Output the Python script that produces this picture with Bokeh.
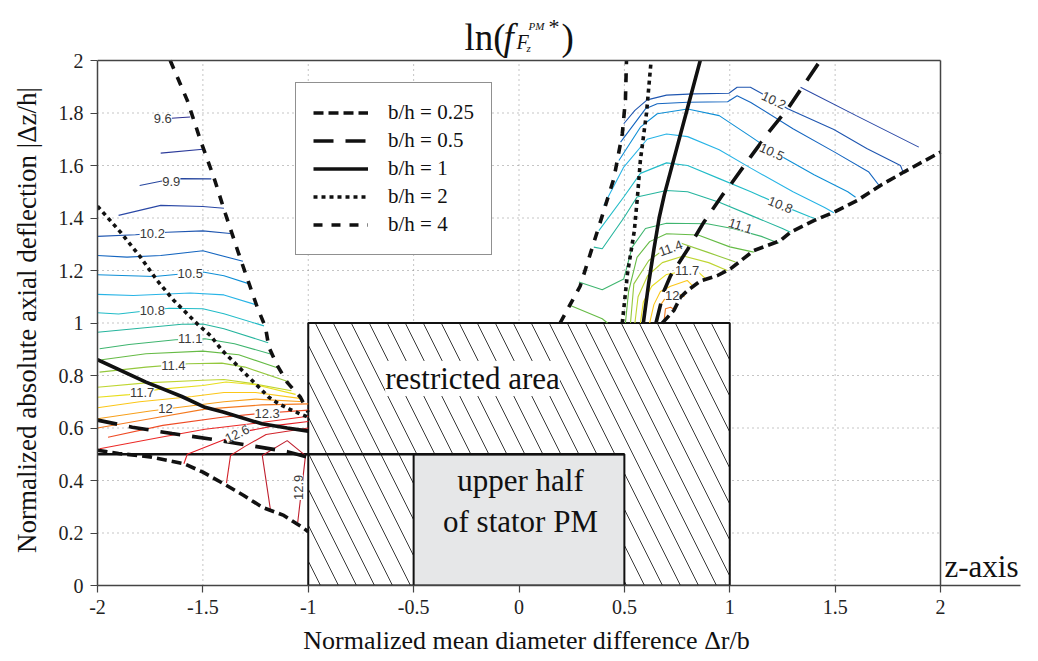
import math
from bokeh.plotting import figure
from bokeh.models import (Range1d, FixedTicker, Label, LabelSet, ColumnDataSource,
                          Legend, LegendItem)
from bokeh.core.properties import value
from bokeh.embed import file_html
from bokeh.resources import INLINE

SERIF = "Liberation Serif"
SANS = "Liberation Sans"

# ---------------- axes / ticks ----------------
x_ticks = [-2, -1.5, -1, -0.5, 0, 0.5, 1, 1.5, 2]
x_tick_labels = ["-2", "-1.5", "-1", "-0.5", "0", "0.5", "1", "1.5", "2"]
y_ticks = [0, 0.2, 0.4, 0.6, 0.8, 1, 1.2, 1.4, 1.6, 1.8, 2]
y_tick_labels = ["0", "0.2", "0.4", "0.6", "0.8", "1", "1.2", "1.4", "1.6", "1.8", "2"]
grid_x = [-1.5, -1, -0.5, 0, 0.5, 1, 1.5]
grid_y = [0.2, 0.4, 0.6, 0.8, 1, 1.2, 1.4, 1.6, 1.8]

# ---------------- regions ----------------
restricted_x = [-1, 1]
restricted_y = [0, 1]
stator_x = [-0.5, 0.5]
stator_y = [0, 0.5]
halfline_x = [-2, 0.5]
halfline_y = [0.5, 0.5]

# ---------------- contour levels / colours ----------------
levels = [9.6, 9.75, 9.9, 10.05, 10.2, 10.35, 10.5, 10.65, 10.8, 10.95, 11.1, 11.25,
          11.4, 11.55, 11.7, 11.85, 12.0, 12.15, 12.3, 12.45, 12.6, 12.75, 12.9]
level_colors = ["#2e3192", "#2b3a9a", "#27479f", "#2a48a6", "#1f56b0", "#1566c0",
                "#0f8fd6", "#28b4e6", "#22bcc8", "#26b59e", "#3fb56f", "#66bb46",
                "#94c83d", "#bfd531", "#e8de1c", "#fbc719", "#f7a01c", "#f47a20",
                "#ef4b24", "#ec2a27", "#e31e26", "#d2232a", "#be1e2d"]

# left-region contours
left_lv = [9.6, 9.75, 9.9, 10.05, 10.2, 10.35, 10.5, 10.65, 10.8, 10.95, 11.1, 11.25,
           11.4, 11.55, 11.7, 11.85, 12.0, 12.15, 12.3, 12.45, 12.6, 12.75, 12.9]
left_xs = [
    [-1.65, -1.56],
    [-1.70, -1.50],
    [-1.80, -1.70, -1.60, -1.46],
    [-1.90, -1.70, -1.50, -1.40],
    [-2.0, -1.82, -1.67, -1.50, -1.37],
    [-2.0, -1.86, -1.70, -1.50, -1.31],
    [-2.0, -1.73, -1.50, -1.40, -1.28],
    [-2.0, -1.83, -1.56, -1.40, -1.25],
    [-2.0, -1.90, -1.66, -1.50, -1.40, -1.21],
    [-2.0, -1.80, -1.60, -1.50, -1.40, -1.19],
    [-1.99, -1.85, -1.63, -1.49, -1.35, -1.17],
    [-1.98, -1.77, -1.50, -1.33, -1.14],
    [-1.99, -1.77, -1.57, -1.41, -1.30, -1.09],
    [-2.0, -1.77, -1.50, -1.40, -1.27, -1.08],
    [-2.0, -1.85, -1.71, -1.50, -1.39, -1.25, -1.06],
    [-2.0, -1.80, -1.55, -1.40, -1.25, -1.04],
    [-2.0, -1.75, -1.60, -1.40, -1.25, -1.02],
    [-2.0, -1.75, -1.49, -1.22, -1.0],
    [-1.95, -1.69, -1.40, -1.23, -1.0],
    [-1.99, -1.70, -1.49, -1.25, -1.0],
    [-1.59, -1.574, -1.40, -1.28, -1.15, -1.0],
    [-1.388, -1.369, -1.30, -1.20, -1.0],
    [-1.179, -1.218, -1.10, -1.013, -1.05],
]
left_ys = [
    [1.78, 1.785],
    [1.647, 1.662],
    [1.524, 1.540, 1.550, 1.549],
    [1.41, 1.448, 1.444, 1.437],
    [1.33, 1.336, 1.346, 1.351, 1.341],
    [1.257, 1.251, 1.257, 1.275, 1.235],
    [1.184, 1.177, 1.194, 1.18, 1.149],
    [1.109, 1.105, 1.114, 1.107, 1.07],
    [1.039, 1.034, 1.056, 1.054, 1.035, 0.989],
    [0.965, 0.98, 0.995, 0.996, 0.978, 0.925],
    [0.902, 0.918, 0.936, 0.94, 0.921, 0.88],
    [0.86, 0.883, 0.893, 0.879, 0.828],
    [0.813, 0.832, 0.845, 0.847, 0.832, 0.775],
    [0.755, 0.772, 0.782, 0.785, 0.77, 0.742],
    [0.717, 0.727, 0.747, 0.762, 0.775, 0.765, 0.728],
    [0.677, 0.70, 0.72, 0.735, 0.735, 0.713],
    [0.635, 0.665, 0.68, 0.70, 0.71, 0.70],
    [0.60, 0.635, 0.672, 0.688, 0.692],
    [0.565, 0.61, 0.642, 0.655, 0.668],
    [0.521, 0.565, 0.595, 0.618, 0.645],
    [0.464, 0.50, 0.555, 0.59, 0.61, 0.625],
    [0.39, 0.495, 0.53, 0.575, 0.60],
    [0.286, 0.495, 0.552, 0.495, 0.24],
]

# right-region contours
right_lv = [10.05, 10.2, 10.35, 10.5, 10.65, 10.8, 10.95, 11.1, 11.25, 11.25,
            11.4, 11.55, 11.7, 11.85, 12.0, 12.15]
right_xs = [
    [1.336, 1.60, 1.897],
    [0.497, 0.55, 0.608, 0.70, 0.83, 0.996, 1.035, 1.098, 1.154, 1.275, 1.494, 1.65, 1.81, 1.826],
    [0.482, 0.60, 0.656, 0.80, 0.99, 1.035, 1.10, 1.30, 1.50, 1.66, 1.715],
    [0.474, 0.576, 0.656, 0.80, 0.95, 1.10, 1.20, 1.40, 1.56, 1.597],
    [0.402, 0.497, 0.608, 0.70, 0.80, 0.95, 1.10, 1.30, 1.45, 1.494],
    [0.379, 0.497, 0.576, 0.70, 0.80, 0.95, 1.10, 1.241, 1.38, 1.407],
    [0.355, 0.395, 0.497, 0.56, 0.70, 0.80, 0.95, 1.10, 1.25, 1.288],
    [0.284, 0.395, 0.497, 0.537, 0.60, 0.70, 0.893, 1.019, 1.15, 1.233],
    [0.244, 0.395, 0.42],
    [0.505, 0.52, 0.56, 0.62, 0.70, 0.85, 1.0, 1.114],
    [0.529, 0.545, 0.616, 0.671, 0.719, 0.766, 0.893, 1.027],
    [0.55, 0.565, 0.61, 0.68, 0.78, 0.90, 0.988],
    [0.576, 0.59, 0.63, 0.70, 0.798, 0.85, 0.89],
    [0.62, 0.64, 0.671, 0.719, 0.798, 0.83],
    [0.656, 0.665, 0.69, 0.727, 0.76, 0.785],
    [0.687, 0.695, 0.719, 0.74],
]
right_ys = [
    [1.898, 1.79, 1.67],
    [1.759, 1.81, 1.85, 1.868, 1.873, 1.875, 1.898, 1.898, 1.873, 1.816, 1.737, 1.665, 1.60, 1.568],
    [1.689, 1.816, 1.835, 1.841, 1.843, 1.866, 1.84, 1.74, 1.65, 1.575, 1.517],
    [1.619, 1.746, 1.797, 1.815, 1.79, 1.71, 1.655, 1.565, 1.50, 1.479],
    [1.448, 1.594, 1.70, 1.72, 1.71, 1.66, 1.59, 1.50, 1.44, 1.42],
    [1.352, 1.48, 1.57, 1.61, 1.60, 1.55, 1.50, 1.45, 1.405, 1.397],
    [1.289, 1.283, 1.40, 1.48, 1.505, 1.50, 1.46, 1.41, 1.36, 1.346],
    [1.156, 1.127, 1.168, 1.289, 1.36, 1.38, 1.378, 1.359, 1.33, 1.304],
    [1.067, 1.016, 1.0],
    [1.0, 1.12, 1.25, 1.31, 1.34, 1.335, 1.29, 1.27],
    [1.0, 1.149, 1.238, 1.27, 1.285, 1.305, 1.27, 1.232],
    [1.0, 1.10, 1.18, 1.23, 1.255, 1.23, 1.2],
    [1.0, 1.08, 1.14, 1.185, 1.20, 1.195, 1.165],
    [1.0, 1.07, 1.12, 1.14, 1.162, 1.137],
    [1.0, 1.06, 1.09, 1.105, 1.11, 1.10],
    [1.0, 1.054, 1.06, 1.05],
]

# contour labels
lab_text = ["9.6", "9.9", "10.2", "10.5", "10.8", "11.1", "11.4", "11.7", "12", "12.3",
            "12.6", "12.9",
            "10.2", "10.5", "10.8", "11.1", "11.4", "11.7", "12"]
lab_x = [-1.69, -1.65, -1.74, -1.56, -1.74, -1.56, -1.64, -1.788, -1.677, -1.195,
         -1.337, -1.046,
         1.209, 1.20, 1.241, 1.051, 0.719, 0.798, 0.727]
lab_y = [1.78, 1.54, 1.34, 1.19, 1.048, 0.94, 0.84, 0.736, 0.673, 0.654,
         0.578, 0.374,
         1.848, 1.652, 1.45, 1.37, 1.285, 1.20, 1.105]
lab_deg = [0, 0, 0, 0, 0, 0, 0, 0, 0, 0, 26, 90,
           -25, -24, -22, -18, 20, 0, 0]

# boundary curves, one left and one right branch per b/h
bh_names = ["b/h = 0.25", "b/h = 0.5", "b/h = 1", "b/h = 2", "b/h = 4"]
bh_left_x = [
    [-2.0, -1.9, -1.75, -1.59, -1.50, -1.40, -1.306, -1.218, -1.116, -1.029, -1.0],
    [-2.0, -1.835, -1.646, -1.448, -1.266, -1.10, -1.0],
    [-2.0, -1.77, -1.60, -1.49, -1.40, -1.22, -1.10, -1.0],
    [-2.0, -1.891, -1.796, -1.717, -1.638, -1.527, -1.464, -1.408, -1.345, -1.29, -1.234,
     -1.187, -1.14, -1.092, -1.045, -1.0],
    [-1.655, -1.574, -1.511, -1.448, -1.393, -1.33, -1.242, -1.203, -1.187, -1.147, -1.10,
     -1.037, -1.0],
]
bh_left_y = [
    [0.515, 0.503, 0.49, 0.464, 0.432, 0.387, 0.343, 0.298, 0.267, 0.222, 0.205],
    [0.63, 0.603, 0.579, 0.556, 0.532, 0.51, 0.488],
    [0.86, 0.775, 0.72, 0.679, 0.66, 0.616, 0.60, 0.588],
    [1.445, 1.346, 1.251, 1.162, 1.086, 0.997, 0.952, 0.895, 0.845, 0.80, 0.755,
     0.717, 0.692, 0.673, 0.656, 0.641],
    [2.0, 1.848, 1.695, 1.555, 1.416, 1.264, 1.06, 0.984, 0.908, 0.838, 0.774,
     0.717, 0.66],
]
bh_right_x = [
    [0.68, 0.735, 0.766, 0.80, 0.861, 0.94, 1.003, 1.114, 1.241, 1.288, 1.399, 1.494,
     1.605, 1.715, 1.826, 2.0],
    [0.65, 0.687, 0.719, 0.80, 0.877, 0.964, 1.012, 1.098, 1.185, 1.28, 1.43],
    [0.59, 0.615, 0.64, 0.665, 0.69, 0.75, 0.80, 0.86],
    [0.49, 0.515, 0.547, 0.562, 0.576, 0.605, 0.627],
    [0.195, 0.29, 0.38, 0.45, 0.49, 0.505, 0.51],
]
bh_right_y = [
    [1.0, 1.048, 1.098, 1.124, 1.16, 1.18, 1.206, 1.276, 1.314, 1.346, 1.39, 1.422,
     1.467, 1.524, 1.575, 1.651],
    [1.0, 1.12, 1.18, 1.28, 1.384, 1.486, 1.536, 1.632, 1.727, 1.822, 2.0],
    [1.0, 1.15, 1.28, 1.40, 1.49, 1.67, 1.82, 2.0],
    [1.0, 1.19, 1.35, 1.48, 1.62, 1.80, 2.0],
    [1.0, 1.14, 1.37, 1.55, 1.72, 1.85, 2.0],
]
bh_dash = ["10 5", "20 12", "solid", "4 4", "9 9"]

# ---------------- figure geometry (page pixels) ----------------
W, H = 1038, 661
FRAME_L, FRAME_R, FRAME_B = 97, 1020, 585
PX_PER_X = 210.75
PX_PER_Y = 262.5
X_END = -2 + (FRAME_R - FRAME_L) / PX_PER_X
Y_END = FRAME_B / PX_PER_Y          # frame reaches the page top, title drawn inside
EN = "\u2002"                        # en space used to shift axis titles off-centre


def dx(px):
    return -2 + (px - FRAME_L) / PX_PER_X


def dy(py):
    return (FRAME_B - py) / PX_PER_Y


p = figure(width=W, height=H, x_range=Range1d(-2, X_END), y_range=Range1d(0, Y_END),
           output_backend="svg", toolbar_location=None,
           min_border_left=FRAME_L, min_border_right=W - FRAME_R, min_border_top=0,
           min_border_bottom=H - FRAME_B)
p.outline_line_color = None
p.background_fill_color = "white"
p.border_fill_color = "white"
p.xgrid.visible = False
p.ygrid.visible = False

p.xaxis.ticker = FixedTicker(ticks=x_ticks)
p.yaxis.ticker = FixedTicker(ticks=y_ticks)
p.xaxis.major_label_overrides = dict(zip(x_ticks, x_tick_labels))
p.yaxis.major_label_overrides = dict(zip(y_ticks, y_tick_labels))
p.yaxis.bounds = (0, 2)
for ax in (p.xaxis[0], p.yaxis[0]):
    ax.axis_line_color = "#444444"
    ax.axis_line_width = 1.5
    ax.major_tick_line_color = "#444444"
    ax.major_tick_line_width = 1.2
    ax.major_tick_out = 7
    ax.major_tick_in = 0
    ax.minor_tick_line_color = None
    ax.major_label_text_font = SERIF
    ax.major_label_text_font_size = "20px"
    ax.major_label_text_color = "#222222"
    ax.major_label_standoff = 7
    ax.axis_label_text_font = SERIF
    ax.axis_label_text_font_style = "normal"
    ax.axis_label_text_color = "#111111"
p.xaxis.axis_label_text_font_size = "26px"
p.yaxis.axis_label_text_font_size = "27px"
p.xaxis.axis_label = "Normalized mean diameter difference \u0394r/b" + EN * 5
p.yaxis.axis_label = "Normalized absolute axial deflection |\u0394z/h|" + EN * 4
p.xaxis.axis_label_standoff = 9
p.yaxis.axis_label_standoff = 14

# dotted grid (limited to the -2..2 x 0..2 box)
p.segment(x0=grid_x, x1=grid_x, y0=0, y1=2, line_color="#8a8a8a", line_dash="1 4",
          line_width=1)
p.segment(x0=-2, x1=2, y0=grid_y, y1=grid_y, line_color="#8a8a8a", line_dash="1 4",
          line_width=1)

# restricted area and stator
p.quad(left=[restricted_x[0]], right=[restricted_x[1]], bottom=[restricted_y[0]],
       top=[restricted_y[1]], fill_color="white", line_color="#111111", line_width=2,
       hatch_pattern="\\", hatch_color="#222222", hatch_scale=36, hatch_weight=0.9)
p.quad(left=[stator_x[0]], right=[stator_x[1]], bottom=[stator_y[0]], top=[stator_y[1]],
       fill_color="#e6e7e8", line_color="#111111", line_width=2)
p.line(halfline_x, halfline_y, line_color="#111111", line_width=2.5)

# contours
col_of = dict(zip(levels, level_colors))
all_xs = left_xs + right_xs
all_ys = left_ys + right_ys
all_cols = [col_of[v] for v in left_lv + right_lv]
p.multi_line(xs=all_xs, ys=all_ys, line_color=all_cols, line_width=1.1)

# boundary curves
bh_renderers = []
for i in range(len(bh_names)):
    kw = dict(line_color="#111111", line_width=3.6, line_cap="butt")
    if bh_dash[i] != "solid":
        kw["line_dash"] = bh_dash[i]
    r = p.multi_line(xs=[bh_left_x[i], bh_right_x[i]], ys=[bh_left_y[i], bh_right_y[i]], **kw)
    bh_renderers.append(r)

# frame borders (top and right, at x = 2)
p.line([-2, 2], [2, 2], line_color="#444444", line_width=1.5)
p.line([2, 2], [0, 2], line_color="#444444", line_width=1.5)

# contour labels
lab_src = ColumnDataSource(dict(x=lab_x, y=lab_y, text=lab_text,
                                angle=[math.radians(a) for a in lab_deg]))
p.add_layout(LabelSet(x="x", y="y", text="text", angle="angle", source=lab_src,
                      text_font=value(SANS), text_font_size=value("13px"),
                      text_color="#3a3a3a", text_align="center", text_baseline="middle",
                      background_fill_color="white"))


def add_text(px, py, text, size, style="normal", align="center", bg=None):
    p.add_layout(Label(x=dx(px), y=dy(py), text=text, text_font=SERIF,
                       text_font_size=size, text_font_style=style, text_color="#111111",
                       text_align=align, text_baseline="middle",
                       background_fill_color=bg))


def add_title_part(px, baseline_py, text, size_px, style="normal"):
    # place by baseline: centre of the text box sits about 0.34 em above it
    add_text(px, baseline_py - 0.34 * size_px, text, f"{size_px}px", style=style,
             align="left")


# region texts
add_text(472, 378, "restricted area", "31px", bg="white")
add_text(520, 480, "upper half", "31px")
add_text(520, 521, "of stator PM", "31px")
add_text(981, 566, "z-axis", "31px")

# title ln(f_{F_z^{PM}}^*)
add_title_part(464, 50, "ln(", 37)
add_title_part(503, 50, "f", 37, style="italic")
add_title_part(516, 48, "F", 20, style="italic")
add_title_part(526, 51, "z", 11, style="italic")
add_title_part(528, 29, "PM", 11, style="italic")
add_title_part(548, 33, "*", 22)
add_title_part(561, 50, ")", 37)

# legend
legend = Legend(items=[LegendItem(label=bh_names[i], renderers=[bh_renderers[i]])
                       for i in range(len(bh_names))],
                location=(198, 330), label_text_font=SERIF, label_text_font_size="21px",
                label_text_color="#111111", glyph_width=55, glyph_height=23, spacing=3,
                padding=17, label_standoff=20, border_line_color="#222222",
                border_line_width=1.5, background_fill_alpha=1.0)
p.add_layout(legend)

open("out.html", "w").write(file_html(p, INLINE))
